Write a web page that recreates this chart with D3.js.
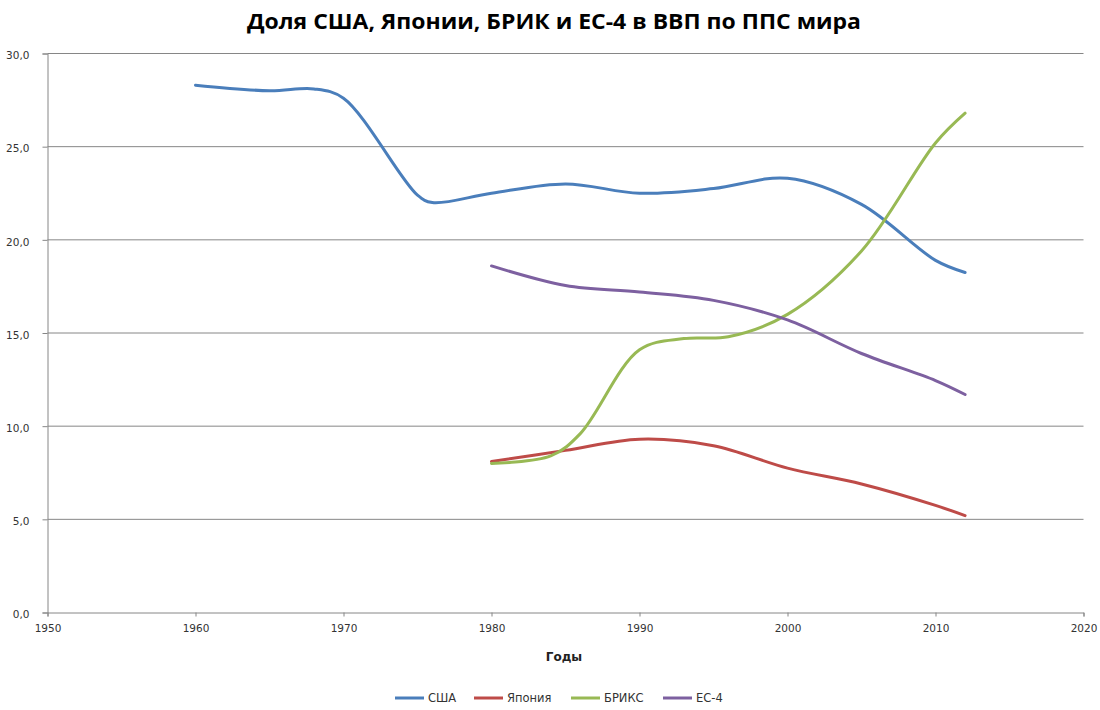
<!DOCTYPE html>
<html>
<head>
<meta charset="utf-8">
<script src="https://cdn.jsdelivr.net/npm/d3@7"></script>
<style>
  body { margin: 0; background: #fff; }
  .tick text { font-family: "DejaVu Sans", Verdana, sans-serif; font-size: 10.5px; fill: #333; }
</style>
</head>
<body>
<div id="chart"></div>
<script>
var width = 1100,
    height = 710;

// series data
var usaYears = [1960, 1965, 1968, 1970, 1975, 1976, 1980, 1985, 1990, 1995, 2000, 2005, 2010, 2012];
var usaValues = [28.3, 28.0, 28.1, 27.6, 22.4, 22.0, 22.5, 23.0, 22.5, 22.75, 23.3, 21.9, 18.9, 18.25];

var japanYears = [1980, 1985, 1990, 1995, 2000, 2005, 2010, 2012];
var japanValues = [8.1, 8.7, 9.3, 8.95, 7.75, 6.9, 5.75, 5.2];

var bricsYears = [1980, 1984, 1986, 1990, 1993, 1996, 2000, 2005, 2010, 2012];
var bricsValues = [8.0, 8.4, 9.6, 14.1, 14.7, 14.8, 16.0, 19.4, 25.2, 26.8];

var eu4Years = [1980, 1985, 1990, 1995, 2000, 2005, 2010, 2012];
var eu4Values = [18.6, 17.55, 17.2, 16.75, 15.7, 13.9, 12.45, 11.7];

var seriesNames = ["США", "Япония", "БРИКС", "ЕС-4"];
var seriesColors = ["#4a7ebb", "#be4b48", "#98b954", "#7d60a0"];
var yTicks = [0, 5, 10, 15, 20, 25, 30];
var xTicks = [1950, 1960, 1970, 1980, 1990, 2000, 2010, 2020];

var series = [
  { name: seriesNames[0], color: seriesColors[0], years: usaYears, values: usaValues },
  { name: seriesNames[1], color: seriesColors[1], years: japanYears, values: japanValues },
  { name: seriesNames[2], color: seriesColors[2], years: bricsYears, values: bricsValues },
  { name: seriesNames[3], color: seriesColors[3], years: eu4Years, values: eu4Values }
];

var x = d3.scaleLinear().domain([1950, 2020]).range([47.5, 1083.5]);
var y = d3.scaleLinear().domain([0, 30]).range([612.5, 53.5]);

var svg = d3.select('#chart').append('svg')
  .attr('width', width)
  .attr('height', height);

svg.append('rect')
  .attr('width', width)
  .attr('height', height)
  .attr('fill', '#fff');

// gridlines + y axis
var yAxis = svg.append('g')
  .attr('transform', 'translate(' + x(1950) + ',0)')
  .call(d3.axisLeft(y).tickValues(yTicks).tickSize(5).tickFormat(function(d) { return d3.format('.1f')(d).replace('.', ','); }));
yAxis.select('.domain').attr('stroke', '#868686');
yAxis.selectAll('.tick line').attr('stroke', '#868686');
yAxis.selectAll('.tick text').attr('x', -18).attr('dy', '0.5em');

svg.append('g').selectAll('line')
  .data(yTicks.filter(function(d) { return d > 0; }))
  .enter().append('line')
  .attr('x1', x(1950)).attr('x2', x(2020))
  .attr('y1', function(d) { return y(d); })
  .attr('y2', function(d) { return y(d); })
  .attr('stroke', '#868686')
  .attr('stroke-width', 1);

var xAxis = svg.append('g')
  .attr('transform', 'translate(0,' + y(0) + ')')
  .call(d3.axisBottom(x).tickValues(xTicks).tickSize(4).tickFormat(d3.format('d')));
xAxis.select('.domain').attr('stroke', '#868686');
xAxis.selectAll('.tick line').attr('stroke', '#868686');
xAxis.selectAll('.tick text').attr('dy', '1.2em');

// lines
var line = d3.line()
  .x(function(d) { return x(d[0]); })
  .y(function(d) { return y(d[1]); })
  .curve(d3.curveCatmullRom.alpha(0.5));

svg.append('g').selectAll('path')
  .data(series)
  .enter().append('path')
  .attr('d', function(s) { return line(d3.zip(s.years, s.values)); })
  .attr('fill', 'none')
  .attr('stroke', function(s) { return s.color; })
  .attr('stroke-width', 3)
  .attr('stroke-linecap', 'round');

// title
svg.append('text')
  .attr('x', 554)
  .attr('y', 29)
  .attr('text-anchor', 'middle')
  .attr('font-family', '"Open Sans", "Noto Sans", sans-serif')
  .attr('font-weight', 'bold')
  .attr('font-size', 22)
  .attr('textLength', 614)
  .attr('lengthAdjust', 'spacingAndGlyphs')
  .attr('fill', '#000')
  .text('Доля США, Японии, БРИК и ЕС-4 в ВВП по ППС мира');

// axis title
svg.append('text')
  .attr('x', 564)
  .attr('y', 661)
  .attr('text-anchor', 'middle')
  .attr('font-family', '"DejaVu Sans", sans-serif')
  .attr('font-weight', 'bold')
  .attr('font-size', 12)
  .attr('fill', '#222')
  .text('Годы');

// legend
var legendX = [395, 474, 571, 663];
var legend = svg.append('g').selectAll('g')
  .data(series)
  .enter().append('g')
  .attr('transform', function(s, i) { return 'translate(' + legendX[i] + ',698)'; });
legend.append('line')
  .attr('x1', 0).attr('x2', 29)
  .attr('stroke', function(s) { return s.color; })
  .attr('stroke-width', 3);
legend.append('text')
  .attr('x', 33)
  .attr('dy', '0.35em')
  .attr('font-family', '"DejaVu Sans", sans-serif')
  .attr('font-size', 11.5)
  .attr('fill', '#333')
  .text(function(s) { return s.name; });
</script>
</body>
</html>
